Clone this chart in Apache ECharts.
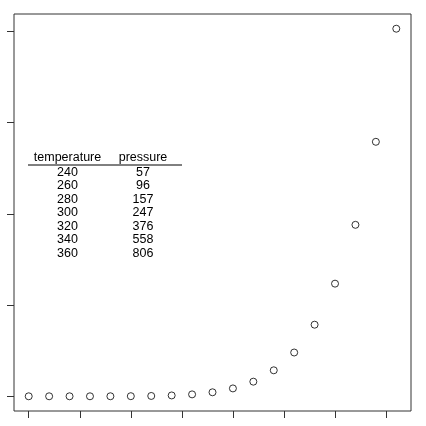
<!DOCTYPE html>
<html><head><meta charset="utf-8">
<script src="https://cdn.jsdelivr.net/npm/echarts@6/dist/echarts.min.js"></script>
<style>html,body{margin:0;padding:0;background:#fff}#c{width:426px;height:426px}</style>
</head><body><div id="c"></div>
<script>
const temperature = [0,20,40,60,80,100,120,140,160,180,200,220,240,260,280,300,320,340,360];
const pressure = [0.0002,0.0012,0.006,0.03,0.09,0.27,0.75,1.85,4.2,8.8,17.3,32.1,57,96,157,247,376,558,806];
const xTicks = [0,50,100,150,200,250,300,350];
const yTicks = [0,200,400,600,800];
const tableHeader = ['temperature','pressure'];
const tableRows = temperature.slice(12).map((t,i)=>[t, pressure[12+i]]);

const chart = echarts.init(document.getElementById('c'));
const font = 'Liberation Sans, Arial, sans-serif';
const graphics = [];
const colX = [67.5, 143];
tableHeader.forEach((h,i)=>graphics.push({type:'text',x:colX[i],y:157.5,style:{text:h,font:'12.5px '+font,fill:'#000',align:'center',verticalAlign:'middle'}}));
graphics.push({type:'line',shape:{x1:28,y1:165,x2:182,y2:165},style:{stroke:'#000',lineWidth:1}});
tableRows.forEach((r,j)=>r.forEach((v,i)=>graphics.push({type:'text',x:colX[i],y:172.5+j*13.5,style:{text:String(v),font:'12.5px '+font,fill:'#000',align:'center',verticalAlign:'middle'}})));

chart.setOption({
  animation:false,
  grid:{left:14,top:14,width:397,height:397,show:true,borderColor:'#333',borderWidth:1,backgroundColor:'transparent'},
  xAxis:{type:'value',min:-14.4,max:374.4,splitLine:{show:false},axisLine:{show:false,onZero:false},
    axisLabel:{show:false},
    axisTick:{show:true,inside:false,length:7,customValues:xTicks,lineStyle:{color:'#333',width:1}}},
  yAxis:{type:'value',min:-32.24,max:838.24,splitLine:{show:false},axisLine:{show:false,onZero:false},
    axisLabel:{show:false},
    axisTick:{show:true,inside:false,length:7,customValues:yTicks,lineStyle:{color:'#333',width:1}}},
  series:[{type:'scatter',data:temperature.map((t,i)=>[t,pressure[i]]),symbol:'circle',symbolSize:7,
    itemStyle:{color:'rgba(0,0,0,0)',borderColor:'#000',borderWidth:1}}],
  graphic:graphics
});
</script></body></html>
